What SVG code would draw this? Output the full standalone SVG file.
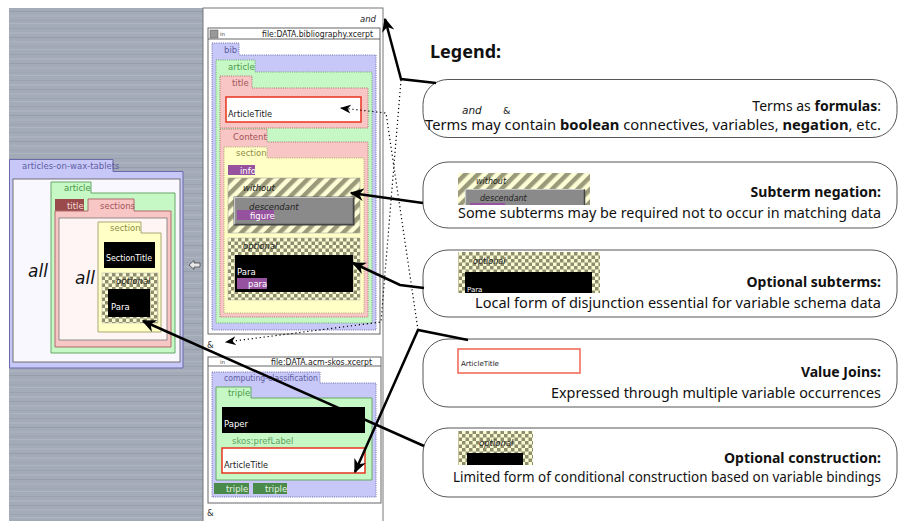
<svg xmlns="http://www.w3.org/2000/svg" width="899" height="521" viewBox="0 0 899 521">
<defs>
  <pattern id="metal" width="20" height="26" patternUnits="userSpaceOnUse">
    <rect width="20" height="26" fill="#a4abb8"/>
    <rect y="2" width="20" height="1" fill="#9aa1af"/>
    <rect y="6" width="20" height="2" fill="#abb2be"/>
    <rect y="11" width="20" height="1" fill="#969dab"/>
    <rect y="15" width="20" height="2" fill="#a9b0bc"/>
    <rect y="20" width="20" height="1" fill="#9ea5b2"/>
    <rect y="23" width="20" height="1" fill="#aeb4c0"/>
  </pattern>
  <pattern id="stripes" width="9" height="9" patternUnits="userSpaceOnUse" patternTransform="rotate(45)">
    <rect width="9" height="9" fill="#fdfdd6"/>
    <rect width="4.5" height="9" fill="#9a9a7a"/>
  </pattern>
  <pattern id="checker" width="7" height="7" patternUnits="userSpaceOnUse">
    <rect width="7" height="7" fill="#fbfbd2"/>
    <rect width="3.5" height="3.5" fill="#8e8e6e"/>
    <rect x="3.5" y="3.5" width="3.5" height="3.5" fill="#8e8e6e"/>
  </pattern>
  <marker id="ah" viewBox="0 0 10 10" refX="9" refY="5" markerWidth="14" markerHeight="14" orient="auto" markerUnits="userSpaceOnUse">
    <path d="M0,0.5 L10,5 L0,9.5 L3,5 Z" fill="#000"/>
  </marker>
  <marker id="ahd" viewBox="0 0 10 10" refX="9" refY="5" markerWidth="11" markerHeight="11" orient="auto" markerUnits="userSpaceOnUse">
    <path d="M0,1 L10,5 L0,9 L3,5 Z" fill="#000"/>
  </marker>
  <style>
    .tab { font-family: "DejaVu Sans", sans-serif; font-size: 8.5px; }
    .lav { fill: #c8c8f8; stroke: #6a6aaa; stroke-width: 1; }
    .lavd { fill: #c8c8f8; stroke: #6a6aaa; stroke-width: 1; stroke-dasharray: 1 1.2; }
    .grn { fill: #c6f8c6; stroke: #66a866; stroke-width: 1; }
    .grnd { fill: #c6f8c6; stroke: #66a866; stroke-width: 1; stroke-dasharray: 1 1.2; }
    .pnk { fill: #f9c6c6; stroke: #b06a6a; stroke-width: 1; }
    .pnkd { fill: #f9c6c6; stroke: #b06a6a; stroke-width: 1; stroke-dasharray: 1 1.2; }
    .yel { fill: #ffffc6; stroke: #aaa870; stroke-width: 1; }
    .yeld { fill: #ffffc6; stroke: #aaa870; stroke-width: 1; stroke-dasharray: 1 1.2; }
    .tl { fill: #5e5ea2; }
    .tg { fill: #4a984a; }
    .tp { fill: #a05656; }
    .ty { fill: #8e8e48; }
    .wt { fill: #ffffff; }
    .blk { fill: #000; }
    .pur { fill: #96529e; }
    .var { fill: #fff; stroke: #e8341e; stroke-width: 1.5; }
    .it { font-family: "DejaVu Sans", sans-serif; font-style: italic; font-size: 8.5px; fill: #222; }
    .lg { font-family: "Noto Sans", "Open Sans", sans-serif; font-size: 14px; fill: #111; text-anchor: end; }
    .lgb { font-weight: bold; }
    .box { fill: #fff; stroke: #555; stroke-width: 1; }
    .conn { fill: none; stroke: #000; stroke-width: 2.5; }
    .dot { fill: none; stroke: #000; stroke-width: 1.2; stroke-dasharray: 1.2 2.8; }
  </style>
</defs>

<!-- background -->
<rect x="9" y="8" width="194" height="513" fill="url(#metal)"/>
<rect x="203" y="8" width="180" height="520" fill="#fff" stroke="#777" stroke-width="1"/>

<!-- left construct term -->
<g id="articles-on-wax-tablets">
  <path class="lav" d="M9.5,159.5 H113 V171.5 H183 V368 H9.5 Z" stroke="#48488c"/>
  <text class="tab tl" x="22" y="168.5">articles-on-wax-tablets</text>
  <rect x="13" y="179" width="167" height="183" fill="#f8f8fe" stroke="#555" stroke-width="0.8"/>
  <text x="28" y="277" font-family="DejaVu Sans, sans-serif" font-style="italic" font-size="17" fill="#111">all</text>
</g>
<g id="left-article">
  <path class="grn" d="M51,182 H91 V193 H175 V353 H51 Z"/>
  <text class="tab tg" x="64" y="191">article</text>
</g>
<g id="left-title">
  <rect x="55" y="199" width="29" height="12" fill="#9a4a4a"/>
  <text class="tab" x="67" y="208.5" fill="#f4dada">title</text>
</g>
<g id="left-sections">
  <path class="pnk" d="M55,211 H88 V199 H134 V211 H171 V347 H55 Z"/>
  <text class="tab tp" x="100" y="208.5">sections</text>
  <rect x="59" y="218" width="108" height="122" fill="#fff5f5" stroke="#777" stroke-width="0.8"/>
  <text x="75" y="284" font-family="DejaVu Sans, sans-serif" font-style="italic" font-size="17" fill="#111">all</text>
</g>
<g id="left-section">
  <path class="yel" d="M98,222 H141 V233 H161 V332 H98 Z"/>
  <text class="tab ty" x="110" y="231">section</text>
</g>
<g id="left-sectiontitle">
  <rect class="blk" x="104" y="242" width="51" height="26"/>
  <text class="tab wt" x="106" y="261" textLength="46" lengthAdjust="spacingAndGlyphs">SectionTitle</text>
</g>
<g id="left-optional">
  <rect x="102" y="273" width="56" height="50" fill="url(#checker)" stroke="#aaa" stroke-width="0.5"/>
  <text class="it" x="116" y="284">optional</text>
  <rect class="blk" x="108" y="289" width="42" height="28"/>
  <text class="tab wt" x="111" y="310">Para</text>
</g>
<g id="arrow-icon">
  <path d="M189,265 L194,260.5 V263 H200 V267 H194 V269.5 Z" fill="#e8e8e8" stroke="#444" stroke-width="0.8"/>
</g>

<!-- middle: query -->
<text class="it" x="376" y="22" text-anchor="end">and</text>

<g id="query-bib-in">
  <rect x="208" y="28" width="172" height="306" fill="#fff" stroke="#666" stroke-width="1"/>
  <line x1="208" y1="39" x2="380" y2="39" stroke="#666" stroke-width="1"/>
  <rect x="210" y="30" width="8" height="8" fill="#999" stroke="#555" stroke-width="0.5"/>
  <text x="220" y="36" font-family="DejaVu Sans, sans-serif" font-size="5.5" fill="#444">in</text>
  <text class="tab" x="262" y="37" fill="#222" textLength="111" lengthAdjust="spacingAndGlyphs">file:DATA.bibliography.xcerpt</text>
</g>
<g id="q-bib">
  <path class="lavd" d="M212,43 H239 V55 H376 V330 H212 Z"/>
  <text class="tab tl" x="224" y="52.5">bib</text>
</g>
<g id="q-article">
  <path class="grnd" d="M216,60 H255 V72 H372 V323 H216 Z"/>
  <text class="tab tg" x="228" y="69.5">article</text>
</g>
<g id="q-title">
  <path class="pnkd" d="M220,76 H252 V88 H368 V128 H220 Z"/>
  <text class="tab tp" x="232" y="85.5">title</text>
</g>
<g id="q-articletitle">
  <rect class="var" x="226" y="97" width="135" height="25"/>
  <text class="tab" x="228" y="116.5" fill="#222" textLength="44" lengthAdjust="spacingAndGlyphs">ArticleTitle</text>
</g>
<g id="q-content">
  <path class="pnkd" d="M220,129 H267 V142 H368 V317 H220 Z"/>
  <text class="tab tp" x="233" y="139.5">Content</text>
</g>
<g id="q-section">
  <path class="yeld" d="M224,147 H267 V158 H364 V313 H224 Z"/>
  <text class="tab ty" x="236" y="156">section</text>
</g>
<g id="q-info">
  <rect class="pur" x="228" y="165" width="27" height="10"/>
  <text class="tab wt" x="240" y="173.5">info</text>
</g>
<g id="q-without">
  <rect x="228" y="178" width="132" height="55" fill="url(#stripes)" stroke="#999" stroke-width="0.5"/>
  <text class="it" x="243" y="190.5">without</text>
  <rect x="234" y="197" width="120" height="28" fill="#8a8a8a" stroke="#555" stroke-width="0.8"/>
  <path d="M234.5,224.5 V197.5 H353.5" fill="none" stroke="#c8c8c8" stroke-width="1.2"/>
  <path d="M353.5,197.5 V224.5 H234.5" fill="none" stroke="#444" stroke-width="1.5"/>
  <text class="it" x="249" y="209.5">descendant</text>
  <rect class="pur" x="237" y="210" width="37" height="10"/>
  <text class="tab wt" x="250" y="218.5">figure</text>
</g>
<g id="q-optional">
  <rect x="228" y="238" width="132" height="62" fill="url(#checker)" stroke="#aaa" stroke-width="0.5"/>
  <text class="it" x="243" y="249">optional</text>
  <rect class="blk" x="235" y="255" width="118" height="37"/>
  <text class="tab wt" x="237" y="274.5">Para</text>
  <rect class="pur" x="237" y="278" width="30" height="11"/>
  <text class="tab wt" x="248" y="287">para</text>
</g>
<text x="207" y="348" font-family="DejaVu Sans, sans-serif" font-size="8.5" fill="#333">&amp;</text>

<g id="query-skos-in">
  <rect x="208" y="357" width="173" height="146" fill="#fff" stroke="#666" stroke-width="1"/>
  <line x1="208" y1="366" x2="381" y2="366" stroke="#666" stroke-width="1"/>
  <text x="220" y="364" font-family="DejaVu Sans, sans-serif" font-size="5.5" fill="#444">in</text>
  <text class="tab" x="271" y="365" fill="#222" textLength="101" lengthAdjust="spacingAndGlyphs">file:DATA.acm-skos.xcerpt</text>
</g>
<g id="q-computing-classification">
  <path class="lavd" d="M212,372 H320 V383 H376 V497 H212 Z"/>
  <text class="tab tl" x="224" y="381" textLength="94" lengthAdjust="spacingAndGlyphs">computing-classification</text>
</g>
<g id="q-triple">
  <path class="grn" d="M216,387 H251 V398 H372 V480 H216 Z"/>
  <text class="tab tg" x="228" y="396">triple</text>
</g>
<g id="q-paper">
  <rect class="blk" x="222" y="407" width="143" height="26"/>
  <text class="tab wt" x="224" y="427">Paper</text>
</g>
<text class="tab" x="232" y="444" fill="#5ea25e">skos:prefLabel</text>
<g id="q-articletitle2">
  <rect class="var" x="222" y="448" width="143" height="25"/>
  <text class="tab" x="224" y="467.5" fill="#222" textLength="44" lengthAdjust="spacingAndGlyphs">ArticleTitle</text>
</g>
<g id="q-triple-a">
  <rect x="214" y="483" width="35" height="11" fill="#4a8a4a"/>
  <text class="tab" x="226" y="492" fill="#e4f4e4">triple</text>
</g>
<g id="q-triple-b">
  <rect x="253" y="483" width="34" height="11" fill="#4a8a4a"/>
  <text class="tab" x="265" y="492" fill="#e4f4e4">triple</text>
</g>
<text x="207" y="516" font-family="DejaVu Sans, sans-serif" font-size="8.5" fill="#333">&amp;</text>

<!-- legend -->
<text x="430" y="58" font-family="Noto Sans, Open Sans, sans-serif" font-weight="bold" font-size="18" fill="#111">Legend:</text>

<g id="legend-formulas">
  <rect class="box" x="423" y="79.5" width="474" height="58" rx="25"/>
  <text class="it" x="462" y="114" style="font-size:10.5px">and</text>
  <text x="503" y="113.5" font-family="DejaVu Sans, sans-serif" font-size="9.5" fill="#222">&amp;</text>
  <text class="lg" x="881" y="110.5">Terms as <tspan class="lgb">formulas</tspan>:</text>
  <text class="lg" x="881" y="130" textLength="456" lengthAdjust="spacingAndGlyphs">Terms may contain <tspan class="lgb">boolean</tspan> connectives, variables, <tspan class="lgb">negation</tspan>, etc.</text>
</g>

<g id="legend-negation">
  <rect class="box" x="423" y="162" width="474" height="66" rx="25"/>
  <rect x="458" y="173" width="132" height="32" fill="url(#stripes)"/>
  <text class="it" x="476" y="184" style="font-size:8px">without</text>
  <rect x="465" y="189" width="120" height="16" fill="#8a8a8a"/>
  <path d="M465.5,205 V189.5 H584.5" fill="none" stroke="#c8c8c8" stroke-width="1.2"/>
  <path d="M584.5,189.5 V205" fill="none" stroke="#444" stroke-width="1.5"/>
  <text class="it" x="480" y="201" style="font-size:8px">descendant</text>
  <rect class="pur" x="470" y="203" width="35" height="2"/>
  <text class="lg lgb" x="881" y="197">Subterm negation:</text>
  <text class="lg" x="881" y="218" textLength="423" lengthAdjust="spacingAndGlyphs">Some subterms may be required not to occur in matching data</text>
</g>

<g id="legend-optional">
  <rect class="box" x="423" y="250" width="474" height="67" rx="25"/>
  <rect x="458" y="252" width="142" height="41" fill="url(#checker)"/>
  <text class="it" x="473" y="264" style="font-size:8px">optional</text>
  <rect class="blk" x="465" y="272" width="127" height="21"/>
  <text class="tab wt" x="467" y="292" style="font-size:7px">Para</text>
  <text class="lg lgb" x="881" y="287">Optional subterms:</text>
  <text class="lg" x="881" y="308" textLength="406" lengthAdjust="spacingAndGlyphs">Local form of disjunction essential for variable schema  data</text>
</g>

<g id="legend-joins">
  <rect class="box" x="423" y="339" width="474" height="68" rx="25"/>
  <rect x="458" y="349" width="122" height="24" fill="#fff" stroke="#f06450" stroke-width="1.5"/>
  <text class="tab" x="461" y="366" style="font-size:7px" fill="#222" textLength="38" lengthAdjust="spacingAndGlyphs">ArticleTitle</text>
  <text class="lg lgb" x="881" y="377">Value Joins:</text>
  <text class="lg" x="881" y="398" textLength="330" lengthAdjust="spacingAndGlyphs">Expressed through multiple variable occurrences</text>
</g>

<g id="legend-construction">
  <rect class="box" x="423" y="428" width="474" height="69" rx="25"/>
  <rect x="458" y="431" width="75" height="34" fill="url(#checker)"/>
  <text class="it" x="479" y="446" style="font-size:8.5px">optional</text>
  <rect class="blk" x="467" y="453" width="56" height="12"/>
  <text class="lg lgb" x="881" y="463">Optional construction:</text>
  <text class="lg" x="881" y="482" textLength="428" lengthAdjust="spacingAndGlyphs">Limited form of conditional construction based on variable bindings</text>
</g>

<!-- connectors -->
<g id="connectors">
  <polyline class="conn" points="436,83 401,79 385,19" marker-end="url(#ah)"/>
  <polyline class="dot" points="401,80 381,322 226,342" marker-end="url(#ahd)"/>
  <polyline class="dot" points="418,330 386,113 341,108" marker-end="url(#ahd)"/>
  <polyline class="conn" points="423,203 351,193" marker-end="url(#ah)"/>
  <polyline class="conn" points="424,288 400,285 353,263" marker-end="url(#ah)"/>
  <polyline class="conn" points="468,340 418,330 355,472" marker-end="url(#ah)"/>
  <polyline class="conn" points="424,446 143,321" marker-end="url(#ah)"/>
</g>
</svg>
